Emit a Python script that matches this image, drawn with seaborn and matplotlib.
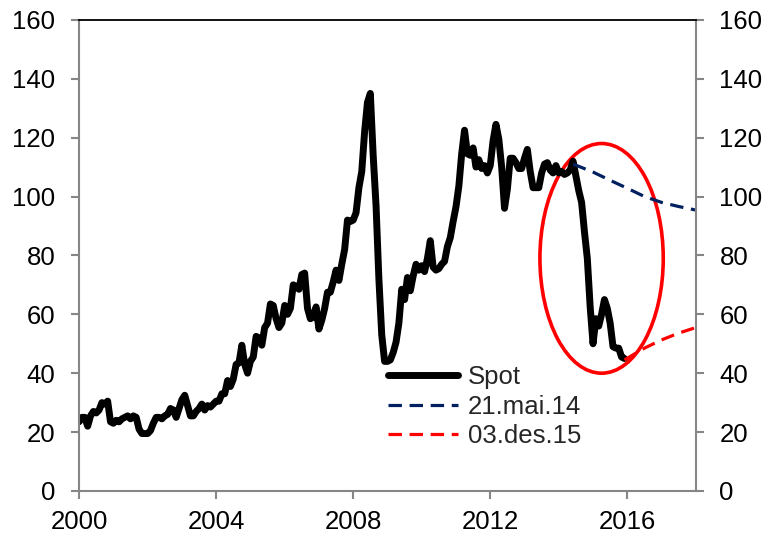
import numpy as np
import pandas as pd
import seaborn as sns
import matplotlib.pyplot as plt
from matplotlib.patches import Ellipse

# monthly spot price, Jan 2000 - Dec 2015
spot_2000 = [23.5, 25, 25, 22, 25.5, 27, 26.5, 27.5, 30, 29.5, 30.5, 23.5]
spot_2001 = [23, 24, 23.5, 24.5, 25, 25.5, 24.5, 25.5, 25, 21, 19.5, 19.5]
spot_2002 = [19.5, 20.5, 23, 25, 25, 24.5, 25.5, 26, 28, 27.5, 25, 28]
spot_2003 = [31, 32.5, 29, 25.5, 25.5, 27, 28, 29.5, 27.5, 29, 28.5, 29.5]
spot_2004 = [30.5, 30.5, 33, 33, 37.5, 35.5, 38, 43, 43.5, 49.5, 43, 40]
spot_2005 = [44, 45.5, 52.5, 52, 49.5, 55.5, 57, 63.5, 63, 58.5, 55.5, 57]
spot_2006 = [63, 60, 62, 70, 69.5, 68.5, 73.5, 74, 62, 58.5, 59, 62.5]
spot_2007 = [55, 58, 62, 67.5, 67.5, 71, 75, 71.5, 77, 82, 92, 91.5]
spot_2008 = [92, 94.5, 103, 108.5, 122, 132, 135, 114, 97, 72, 53, 44]
spot_2009 = [44, 44.5, 47, 50.5, 57, 68.5, 65, 72.5, 68, 73, 77, 75]
spot_2010 = [76.5, 74.5, 79, 85, 76, 75, 75.5, 77, 78, 83, 86, 91.5]
spot_2011 = [96.5, 103.5, 114.5, 122.5, 114.5, 114, 116.5, 110, 112.5, 109.5, 110.5, 108]
spot_2012 = [110.5, 119, 124.5, 119.5, 110, 96, 102.5, 113, 113, 111.5, 109.5, 109.5]
spot_2013 = [113, 116, 108.5, 103, 103, 103, 108, 111, 111.5, 109, 108, 110.5]
spot_2014 = [108, 108.5, 107.5, 108, 109, 112, 107, 102, 98, 88, 79, 62.5]
spot_2015 = [50, 58.5, 56, 60, 65, 62, 57, 49, 48.5, 48.5, 45.5, 45]

spot = (spot_2000 + spot_2001 + spot_2002 + spot_2003 + spot_2004 + spot_2005
        + spot_2006 + spot_2007 + spot_2008 + spot_2009 + spot_2010 + spot_2011
        + spot_2012 + spot_2013 + spot_2014 + spot_2015)
spot_t = 2000 + np.arange(len(spot)) / 12

# forward curves
fwd_may14_t = [2014.42, 2015.0, 2015.5, 2016.0, 2016.5, 2017.0, 2017.5, 2018.0]
fwd_may14 = [111, 108.3, 105.5, 102.8, 100, 98, 96.6, 95.4]
fwd_dec15_t = [2015.92, 2016.25, 2016.5, 2017.0, 2017.5, 2018.0]
fwd_dec15 = [44.5, 46.8, 48.5, 51.3, 53.6, 55.5]

df_spot = pd.DataFrame({'t': spot_t, 'v': spot})
df_may = pd.DataFrame({'t': fwd_may14_t, 'v': fwd_may14})
df_dec = pd.DataFrame({'t': fwd_dec15_t, 'v': fwd_dec15})

sns.set_style('white')
plt.rcParams['font.family'] = ['Liberation Sans', 'DejaVu Sans']

fig = plt.figure(figsize=(7.68, 5.36), dpi=100)
ax = fig.add_axes([0.103, 0.084, 0.803, 0.879])

sns.lineplot(data=df_spot, x='t', y='v', ax=ax, color='black', linewidth=5, label='Spot',
             solid_joinstyle='round', solid_capstyle='round')
sns.lineplot(data=df_may, x='t', y='v', ax=ax, color='#002060', linewidth=2.3,
             label='21.mai.14').lines[-1].set_dashes((4.2, 2.4))
sns.lineplot(data=df_dec, x='t', y='v', ax=ax, color='#ff0000', linewidth=2.3,
             label='03.des.15').lines[-1].set_dashes((4.2, 2.4))

ax.add_patch(Ellipse((2015.25, 79), 3.6, 78, fill=False, edgecolor='#ff0000', linewidth=2.6))

ax.set_xlim(2000, 2018)
ax.set_ylim(0, 160)
ax.set_xticks([2000, 2004, 2008, 2012, 2016])
ax.set_yticks(range(0, 161, 20))
ax.set_xlabel('')
ax.set_ylabel('')

gray = '#868686'
for s in ['left', 'right', 'bottom']:
    ax.spines[s].set_color(gray)
    ax.spines[s].set_linewidth(1.5)
ax.spines['top'].set_color('black')
ax.spines['top'].set_linewidth(1.3)
ax.tick_params(axis='both', which='major', direction='out', length=6, width=1.5,
               color=gray, labelsize=18.5, labelcolor='black')
ax.tick_params(axis='y', left=True, right=True, labelleft=True, labelright=True, pad=11)
ax.tick_params(axis='x', bottom=True, pad=8)

leg = ax.legend(loc='upper left', bbox_to_anchor=(0.485, 0.289), borderaxespad=0,
                frameon=False, fontsize=18.5, handlelength=2.7, handletextpad=0.4,
                labelspacing=0.22)

fig.savefig('out.png', dpi=100)
